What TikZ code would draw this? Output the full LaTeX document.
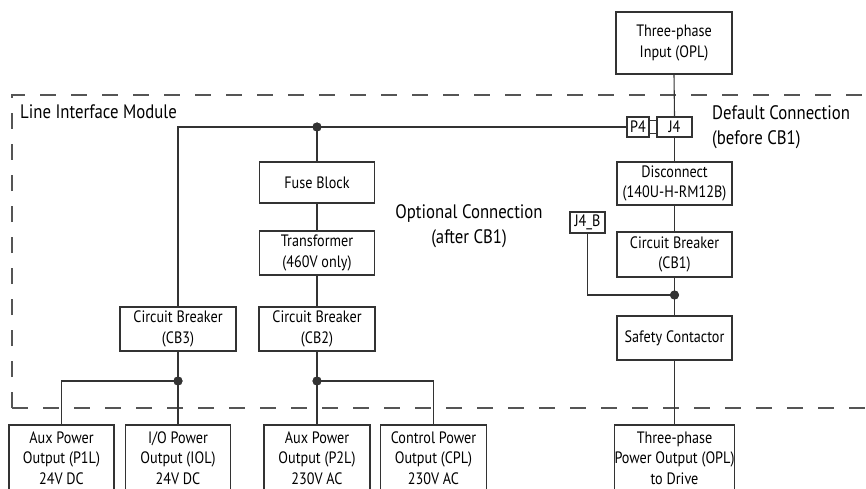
\documentclass[tikz,border=0pt]{standalone}
\usepackage{fontspec}
\setmainfont[FakeStretch=0.86]{PT Sans}
\definecolor{lc}{HTML}{333333}
\definecolor{dc}{HTML}{555555}
\begin{document}
\begin{tikzpicture}[x=1pt,y=-1pt,
  box/.style={draw=lc, line width=1.1pt, fill=white, align=center, inner sep=0pt,
    font=\fontsize{16.5}{20.5}\selectfont, text=black},
  dotnode/.style={circle, fill=lc, inner sep=0pt, minimum size=9pt},
  wire/.style={draw=lc, line width=1.1pt},
  border/.style={draw=dc, line width=1.1pt, dash pattern=on 16pt off 15pt},
  lbl/.style={font=\fontsize{19.5}{25}\selectfont, text=black, inner sep=0pt}]
\useasboundingbox (0,0) rectangle (866,489);
\clip (0,0) rectangle (866,489);
\fill[white] (0,0) rectangle (866,489);

% module border
\draw[border] (12,408) -- (12,95) -- (900,95);
\draw[border] (12,408) -- (900,408);

% labels
\node[lbl, anchor=base west] (lim) at (20,119) {Line Interface Module};
\node[lbl, anchor=west, align=left] (dflt) at (712,127) {Default Connection\\(before CB1)};
\node[lbl, align=center] (opt) at (469,226) {Optional Connection\\(after CB1)};

% right column
\node[box, minimum width=116, minimum height=62] (inp) at (674,43) {Three-phase\\Input (OPL)};
\node[box, minimum width=35, minimum height=20] (j4) at (674.5,127) {J4};
\node[box, minimum width=22, minimum height=20] (p4) at (638,127) {P4};
\node[box, minimum width=8, minimum height=13] (cpl4) at (653,127) {};
\node[box, minimum width=115, minimum height=43] (disc) at (674.5,183.5) {Disconnect\\(140U-H-RM12B)};
\node[box, minimum width=115, minimum height=45] (cb1) at (674.5,254.5) {Circuit Breaker\\(CB1)};
\node[box, minimum width=35, minimum height=21] (j4b) at (587.5,222.5) {J4\_B};
\node[dotnode] (d3) at (674.5,295) {};
\node[box, minimum width=115, minimum height=44] (sc) at (674.5,338) {Safety Contactor};
\node[box, minimum width=119, minimum height=66] (opl) at (674.5,458) {Three-phase\\Power Output (OPL)\\to Drive};

% middle column
\node[dotnode] (d1) at (317,127) {};
\node[box, minimum width=115, minimum height=41] (fuse) at (317,182.5) {Fuse Block};
\node[box, minimum width=115, minimum height=44] (trans) at (317,253) {Transformer\\(460V only)};
\node[box, minimum width=116, minimum height=44] (cb2) at (317,329) {Circuit Breaker\\(CB2)};
\node[dotnode] (d2) at (317,381) {};
\node[box, minimum width=106, minimum height=66] (p2l) at (317,458) {Aux Power\\Output (P2L)\\230V AC};
\node[box, minimum width=106, minimum height=66] (cpl) at (433.5,458) {Control Power\\Output (CPL)\\230V AC};

% left column
\coordinate (tl) at (178,127);
\node[box, minimum width=116, minimum height=44] (cb3) at (178,329) {Circuit Breaker\\(CB3)};
\node[dotnode] (d4) at (178,381) {};
\node[box, minimum width=105, minimum height=66] (iol) at (178,458) {I/O Power\\Output (IOL)\\24V DC};
\node[box, minimum width=105, minimum height=66] (p1l) at (61.5,458) {Aux Power\\Output (P1L)\\24V DC};

% connectors
\draw[wire] (inp.south) -- (j4.north);
\draw[wire] (j4.south) -- (disc.north);
\draw[wire] (disc.south) -- (cb1.north);
\draw[wire] (cb1.south) -- (d3.center);
\draw[wire] (d3.center) -- (sc.north);
\draw[wire] (sc.south) -- (opl.north);
\draw[wire] (j4b.south) -- (j4b.south |- d3.center) -- (d3.center);

\draw[wire] (p4.west) -- (tl) -- (cb3.north);
\draw[wire] (d1.center) -- (fuse.north);
\draw[wire] (fuse.south) -- (trans.north);
\draw[wire] (trans.south) -- (cb2.north);
\draw[wire] (cb2.south) -- (d2.center);
\draw[wire] (d2.center) -- (p2l.north);
\draw[wire] (d2.center) -- (cpl.north |- d2.center) -- (cpl.north);

\draw[wire] (cb3.south) -- (d4.center);
\draw[wire] (d4.center) -- (iol.north);
\draw[wire] (d4.center) -- (p1l.north |- d4.center) -- (p1l.north);

% redraw dots on top
\node[dotnode] at (d1) {};
\node[dotnode] at (d2) {};
\node[dotnode] at (d3) {};
\node[dotnode] at (d4) {};
\end{tikzpicture}
\end{document}
